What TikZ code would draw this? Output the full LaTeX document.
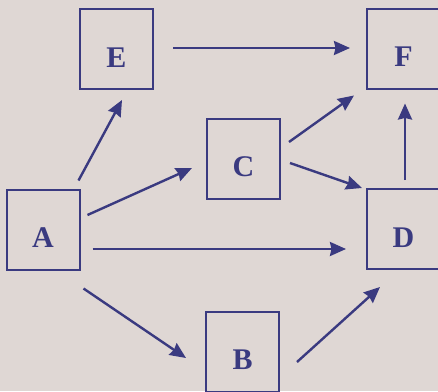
\documentclass[tikz,border=0pt]{standalone}
\usepackage{fontspec}
\setmainfont{Liberation Serif}
\usetikzlibrary{arrows.meta,calc}
\definecolor{bg}{RGB}{223,215,212}
\definecolor{ink}{RGB}{58,58,128}
\tikzset{
  box/.style={draw=ink, line width=2pt, minimum width=73pt, minimum height=80pt,
    inner sep=0pt, text=ink, font=\bfseries\fontsize{30}{30}\selectfont,
    text height=36pt, text depth=0pt},
  arr/.style={draw=ink, line width=2.4pt, -{Stealth[length=16pt,width=14pt,inset=1.5pt]}}
}
\begin{document}
\begin{tikzpicture}[x=1pt,y=-1pt]
\useasboundingbox (0,0) rectangle (438,391);
\fill[bg] (0,0) rectangle (438,391);
\clip (0,0) rectangle (438,391);
\node[box] (E) at (116.5,49) {E};
\node[box] (F) at (403.5,48.5) {F};
\node[box] (C) at (243.5,158.5) {C};
\node[box] (A) at (43,229.5) {A};
\node[box] (D) at (403.5,229) {D};
\node[box] (B) at (242.5,351.5) {B};
\draw[arr] ($(A.north east)+(-2,-8)$) -- ($(E.south)+(5.5,10)$);
\draw[arr] ($(A.east)+(7,-14.5)$) -- ($(C.west)+(-14,9.5)$);
\draw[arr] ($(A.east)+(12,19.5)$) -- ($(D.west)+(-20,20)$);
\draw[arr] ($(A.south east)+(3,18)$) -- ($(B.west)+(-19,6.5)$);
\draw[arr] ($(E.east)+(19,-1)$) -- ($(F.west)+(-16,-0.5)$);
\draw[arr] ($(C.east)+(8,-16.5)$) -- ($(F.south west)+(-12,6)$);
\draw[arr] ($(C.east)+(9,4.5)$) -- ($(D.north west)+(-4,0)$);
\draw[arr] ($(D.north)+(1.5,-8)$) -- ($(F.south)+(1.5,14)$);
\draw[arr] ($(B.east)+(17,10.5)$) -- ($(D.south west)+(14,17)$);
\end{tikzpicture}
\end{document}
